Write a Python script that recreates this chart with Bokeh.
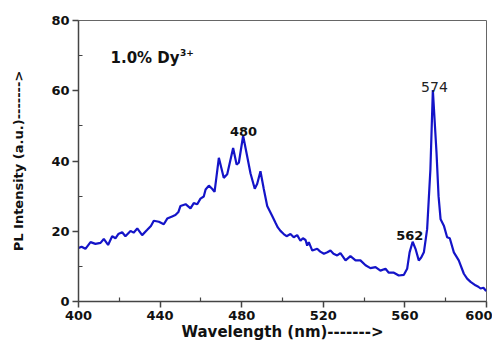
from bokeh.plotting import figure
from bokeh.embed import file_html
from bokeh.resources import INLINE
from bokeh.models import ColumnDataSource, FixedTicker, Range1d
from bokeh.core.properties import value

wavelength = [400, 401.5, 403.4, 405.9, 408.3, 410.8, 412.4, 414.5, 416.5, 418.1, 419.5,
              421.4, 423.0, 425.5, 427.0, 428.8, 431.2, 433.7, 435.5, 436.9, 439.4, 441.8,
              443.5, 445.9, 447.5, 449.0, 450.0, 452.5, 454.9, 456.5, 458.2, 459.8, 461.4,
              462.3, 463.9, 465.5, 466.7, 468.8, 471.2, 472.9, 475.8, 477.5, 478.6, 480.7,
              482.7, 484.3, 486.4, 487.6, 489.2, 490.8, 492.5, 494.9, 496.5, 497.7, 499.0,
              500.6, 502.0, 503.9, 505.5, 507.2, 508.8, 510.0, 511.3, 512.1, 512.9, 514.6,
              517.0, 518.5, 520.3, 522.0, 523.5, 525.0, 526.8, 528.4, 530.9, 533.3, 535.8,
              538.2, 540.7, 543.1, 545.6, 548.0, 550.5, 552.1, 554.6, 557.0, 559.5, 561.1,
              562.3, 563.8, 565.2, 566.8, 568.0, 569.3, 570.9, 572.5, 573.7, 575.5, 576.5,
              577.5, 579.1, 580.7, 582.0, 584.0, 586.4, 588.9, 590.5, 592.2, 594.6, 596.0,
              597.1, 598.5, 599.5, 600]
intensity = [15.2, 15.6, 15.0, 16.9, 16.4, 16.7, 17.8, 16.1, 18.6, 18.0, 19.2,
             19.7, 18.6, 20.1, 19.6, 20.8, 18.9, 20.4, 21.5, 23.0, 22.7, 22.0,
             23.6, 24.2, 24.6, 25.5, 27.2, 27.7, 26.5, 28.0, 27.7, 29.3, 29.9,
             31.9, 33.0, 32.1, 31.2, 40.9, 35.2, 36.2, 43.7, 39.0, 39.5, 47.2,
             41.3, 36.5, 32.1, 33.5, 37.1, 32.1, 27.2, 24.4, 22.5, 21.1, 20.1,
             19.2, 18.6, 19.2, 18.3, 18.9, 17.3, 18.0, 17.5, 15.9, 16.9, 14.5,
             15.0, 14.2, 13.6, 14.0, 14.5, 13.6, 13.1, 13.8, 11.7, 12.9, 11.7,
             11.7, 10.3, 9.5, 9.8, 8.8, 9.3, 8.2, 8.2, 7.4, 7.6, 9.3,
             14.0, 17.0, 15.0, 11.7, 12.5, 14.0, 20.6, 37.6, 60.2, 42.3, 30.0,
             23.4, 21.6, 18.3, 18.0, 14.0, 11.7, 7.9, 6.5, 5.6, 4.6, 4.2,
             3.7, 3.9, 3.2, 3.0]

x_ticks = [400, 440, 480, 520, 560, 600]
y_ticks = [0, 20, 40, 60, 80]

peak_x = [480.9, 562.4]
peak_y = [48.4, 18.7]
peak_labels = ["480", "562"]
main_peak_x = [574.5]
main_peak_y = [61.1]
main_peak_label = ["574"]

FONT = value("DejaVu Sans")

p = figure(width=492, height=343, output_backend="svg", toolbar_location=None,
           x_range=Range1d(400, 600), y_range=Range1d(0, 80),
           min_border_left=78, min_border_right=6, min_border_top=20, min_border_bottom=10)
p.background_fill_color = "white"
p.border_fill_color = "white"
p.outline_line_color = "#666666"
p.outline_line_width = 1
p.xgrid.visible = False
p.ygrid.visible = False

p.line(wavelength, intensity, line_color="#1414c8", line_width=2.2)

src = ColumnDataSource(dict(x=peak_x, y=peak_y, t=peak_labels))
p.text(x="x", y="y", text="t", source=src, text_font=FONT, text_font_style="bold",
       text_font_size="13px", text_align="center", text_baseline="alphabetic", text_color="#111111")
src2 = ColumnDataSource(dict(x=main_peak_x, y=main_peak_y, t=main_peak_label))
p.text(x="x", y="y", text="t", source=src2, text_font=FONT, text_font_style="normal",
       text_font_size="14px", text_align="center", text_baseline="alphabetic", text_color="#222222")

p.text(x=[415.7], y=[69.3], text=["1.0% Dy"], text_font=FONT, text_font_style="bold",
       text_font_size="15px", text_align="left", text_baseline="alphabetic", text_color="#111111")
p.text(x=[449.8], y=[71.0], text=["3+"], text_font=FONT, text_font_style="bold",
       text_font_size="9px", text_align="left", text_baseline="alphabetic", text_color="#111111")

for ax in (p.xaxis[0], p.yaxis[0]):
    ax.axis_line_color = "#444444"
    ax.axis_line_width = 1.5
    ax.major_tick_line_color = "#444444"
    ax.major_tick_line_width = 1.5
    ax.minor_tick_line_color = "#444444"
    ax.minor_tick_line_width = 1.2
    ax.major_tick_out = 6
    ax.major_tick_in = 0
    ax.minor_tick_out = 0
    ax.minor_tick_in = 4
    ax.major_label_text_font = "DejaVu Sans"
    ax.major_label_text_font_style = "bold"
    ax.major_label_text_font_size = "13px"
    ax.major_label_text_color = "#111111"
    ax.major_label_standoff = 3
    ax.axis_label_text_font = "DejaVu Sans"
    ax.axis_label_text_font_style = "bold"
    ax.axis_label_text_color = "#111111"

p.xaxis.ticker = FixedTicker(ticks=x_ticks, minor_ticks=[420, 460, 500, 540, 580])
p.yaxis.ticker = FixedTicker(ticks=y_ticks, minor_ticks=[10, 30, 50, 70])
p.xaxis.axis_label = "Wavelength (nm)------->"
p.xaxis.axis_label_text_font_size = "15px"
p.xaxis.axis_label_standoff = 0
p.yaxis.axis_label = "PL Intensity (a.u.)------->"
p.yaxis.axis_label_text_font_size = "13px"
p.yaxis.axis_label_standoff = 22

open("out.html", "w").write(file_html(p, INLINE))
